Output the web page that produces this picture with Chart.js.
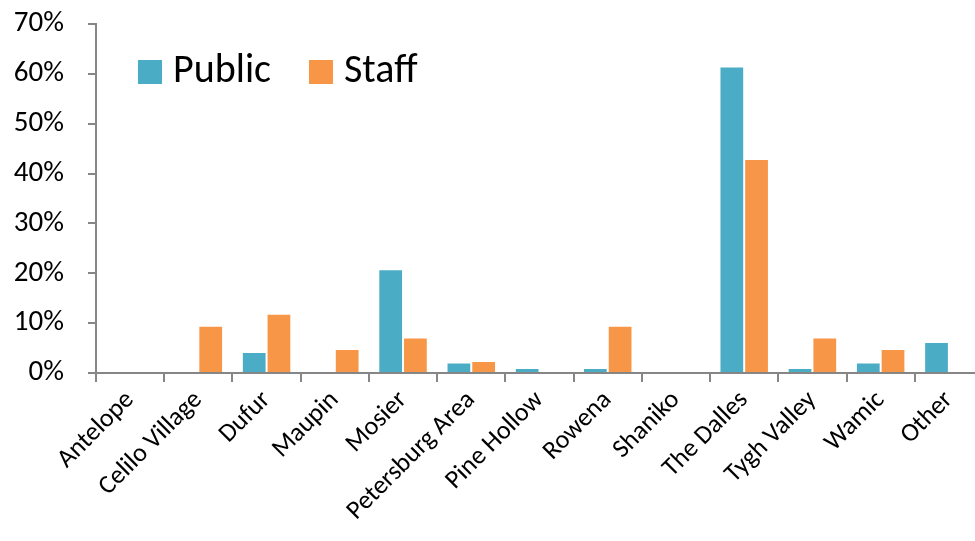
<!DOCTYPE html>
<html>
<head>
<meta charset="utf-8">
<script src="https://cdn.jsdelivr.net/npm/chart.js@4/dist/chart.umd.min.js"></script>
<style>
  body { margin: 0; overflow: hidden; background: #fff; }
  #wrap { position: absolute; left: 0; top: 0; width: 983px; height: 541px; }
</style>
</head>
<body>
<div id="wrap"><canvas id="myChart" width="983" height="541"></canvas></div>
<script>
// places and shares (percent)
var places = ['Antelope', 'Celilo Village', 'Dufur', 'Maupin', 'Mosier', 'Petersburg Area',
              'Pine Hollow', 'Rowena', 'Shaniko', 'The Dalles', 'Tygh Valley', 'Wamic', 'Other'];
var publicShare = [0, 0, 4.2, 0, 20.8, 2.1, 1.0, 1.0, 0, 61.5, 1.0, 2.1, 6.2];
var staffShare  = [0, 9.5, 11.9, 4.8, 7.1, 2.4, 0, 9.5, 0, 42.9, 7.1, 4.8, 0];
var yTicks = [0, 10, 20, 30, 40, 50, 60, 70];

var fontFam = 'Carlito, Calibri, Lato, sans-serif';
var axisGrey = '#868686';

// legend sits inside the plot, top left, in one row
var insideLegend = {
  id: 'insideLegend',
  afterDraw: function (chart) {
    var c = chart.ctx;
    var area = chart.chartArea;
    var x = area.left + 42;
    var y = area.top + 36;
    c.save();
    c.font = '40px ' + fontFam;
    c.textBaseline = 'middle';
    chart.data.datasets.forEach(function (ds) {
      c.fillStyle = ds.backgroundColor;
      c.fillRect(x, y, 24, 24);
      c.fillStyle = '#000';
      c.fillText(ds.label, x + 35, y + 12);
      x = x + 35 + c.measureText(ds.label).width + 38;
    });
    c.restore();
  }
};

window.onload = function () {
  var ctx = document.getElementById('myChart');
  var myBarChart = new Chart(ctx, {
    type: 'bar',
    data: {
      labels: places,
      datasets: [{
        label: 'Public',
        data: publicShare,
        backgroundColor: '#4BACC6',
        borderColor: 'rgba(255,255,255,0.45)',
        borderWidth: 1
      }, {
        label: 'Staff',
        data: staffShare,
        backgroundColor: '#F79646',
        borderColor: 'rgba(255,255,255,0.45)',
        borderWidth: 1
      }]
    },
    plugins: [insideLegend],
    options: {
      responsive: false,
      animation: false,
      datasets: { bar: { categoryPercentage: 0.725, barPercentage: 1.0 } },
      layout: { padding: { top: 24, right: 0, left: 0, bottom: 0 } },
      plugins: {
        tooltip: { enabled: false },
        legend: { display: false }
      },
      scales: {
        x: {
          grid: { drawOnChartArea: false, color: axisGrey, lineWidth: 2, tickLength: 9 },
          border: { color: axisGrey, width: 2 },
          ticks: {
            color: '#000',
            font: { family: fontFam, size: 26 },
            maxRotation: 45,
            minRotation: 45,
            padding: 3,
            autoSkip: false
          },
          afterFit: function (scale) {
            scale.height = 168;
            scale.paddingLeft = 0;
            scale.paddingRight = 0;
          }
        },
        y: {
          min: 0,
          max: 70,
          grid: { drawOnChartArea: false, color: axisGrey, lineWidth: 2, tickLength: 8 },
          border: { color: axisGrey, width: 2 },
          afterBuildTicks: function (scale) {
            scale.ticks = yTicks.map(function (v) { return { value: v }; });
          },
          ticks: {
            color: '#000',
            font: { family: fontFam, size: 29 },
            padding: 24,
            callback: function (v) { return v + '%'; }
          },
          afterFit: function (scale) {
            scale.width = 96;
            scale.paddingTop = 0;
            scale.paddingBottom = 0;
          }
        }
      }
    }
  });
};
</script>
</body>
</html>
